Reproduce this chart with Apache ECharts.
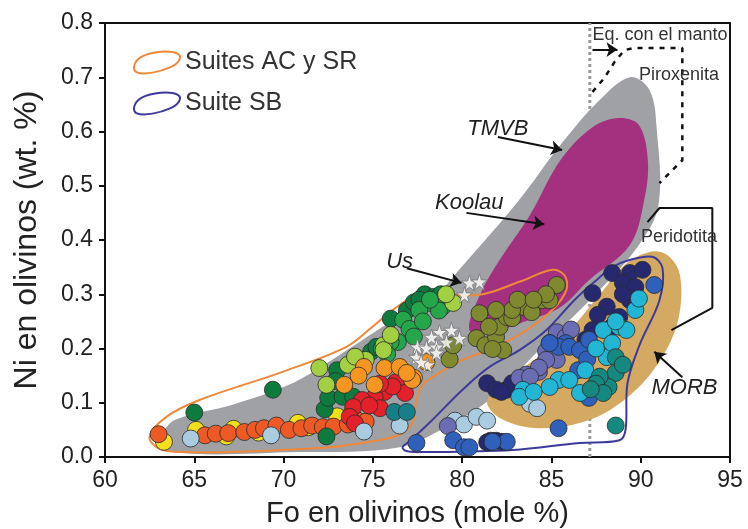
<!DOCTYPE html>
<html>
<head>
<meta charset="utf-8">
<script src="https://cdn.jsdelivr.net/npm/echarts@6/dist/echarts.min.js"></script>
<style>
  html, body { margin: 0; padding: 0; background: #fff; }
  #chart { width: 748px; height: 529px; }
</style>
</head>
<body>
<div id="chart"></div>
<script>
// campos (Fo, Ni) -- contornos
const tmvbField = [[63.2,0.037],[63.9,0.068],[67.1,0.096],[70.3,0.133],[72.7,0.179],[75.9,0.247],[78.2,0.289],[80.2,0.359],[83.2,0.474],[85.5,0.575],[87.7,0.658],[89.4,0.700],[90.5,0.676],[90.9,0.603],[91.0,0.465],[89.9,0.391],[87.7,0.308],[84.3,0.197],[81.5,0.105],[79.3,0.059],[76.5,0.018],[70.9,0.009],[63.6,0.009]];
const koolauField = [[80.4,0.234],[81.0,0.299],[82.1,0.363],[83.8,0.446],[85.5,0.547],[87.3,0.608],[88.8,0.625],[89.9,0.612],[90.4,0.547],[90.2,0.474],[89.4,0.391],[87.1,0.326],[85.5,0.276],[83.8,0.253],[81.5,0.230]];
const morbField = [[81.4,0.105],[82.1,0.072],[84.3,0.053],[87.1,0.068],[89.4,0.114],[91.1,0.179],[92.1,0.253],[92.2,0.335],[91.5,0.372],[90.5,0.378],[89.1,0.354],[87.7,0.299],[85.5,0.216],[82.9,0.151]];
const acsrOutline = [[62.49,0.037],[63.44,0.074],[65.29,0.105],[69.94,0.157],[73.52,0.203],[74.98,0.240],[76.32,0.276],[77.61,0.299],[80.97,0.299],[83.21,0.323],[85.05,0.345],[85.73,0.335],[85.84,0.308],[85.05,0.271],[83.60,0.234],[81.92,0.203],[80.02,0.179],[78.73,0.155],[77.78,0.133],[77.44,0.105],[77.22,0.063],[76.49,0.041],[74.98,0.029],[72.57,0.018],[66.97,0.009],[64.34,0.009],[63.05,0.015]];
const sbOutline = [[76.66,0.018],[77.05,0.029],[78.17,0.063],[80.02,0.124],[81.53,0.166],[83.21,0.197],[84.72,0.234],[86.28,0.289],[87.52,0.326],[88.42,0.350],[89.37,0.363],[90.66,0.369],[91.22,0.348],[91.05,0.289],[89.93,0.206],[89.26,0.136],[89.15,0.050],[88.81,0.031],[86.57,0.026],[82.82,0.013],[77.61,0.009],[76.88,0.011]];
const piroxenitaLine = [[87.30,0.673],[87.97,0.699],[88.53,0.728],[89.09,0.750],[89.65,0.754],[92.33,0.754],[92.33,0.547],[91.05,0.505]];
const peridotitaLine = [[90.38,0.433],[91.05,0.459],[94.01,0.459],[94.01,0.275],[91.72,0.234]];
const mantleFo = [[87.15,0],[87.15,0.8]];

// flechas y textos
const arrows = [
  [[82.0,0.590],[85.6,0.566]],
  [[80.24,0.450],[84.6,0.429]],
  [[76.9,0.348],[79.96,0.321]],
  [[92.33,0.147],[90.76,0.194]],
  [[87.3,0.751],[88.7,0.751]]
];
const noteText = ['TMVB', 'Koolau', 'Us', 'MORB', 'Piroxenita', 'Peridotita', 'Eq. con el manto'];
const noteAt = [[82.0,0.604],[80.4,0.468],[76.5,0.360],[92.45,0.127],[92.15,0.704],[92.15,0.406],[87.3,0.778]];

// olivinos (Fo, Ni)
const yellowPts = [[63.3,0.028],[65.1,0.05],[66.8,0.038],[67.2,0.052],[68.6,0.045],[70.8,0.063],[71.4,0.055],[73.0,0.075],[73.8,0.08]];
const redOrangePts = [[63.0,0.042],[65.6,0.040],[66.2,0.043],[66.9,0.044],[67.8,0.046],[68.4,0.050],[68.9,0.053],[69.6,0.058],[70.3,0.050],[71.0,0.053],[71.6,0.058],[72.2,0.055],[72.8,0.056],[74.1,0.068],[74.6,0.065],[73.6,0.060]];
const darkGreenPts = [[65.0,0.082],[69.4,0.124],[72.3,0.088],[72.4,0.038],[73.0,0.160],[72.9,0.140],[72.5,0.109],[73.3,0.111],[73.9,0.111],[74.9,0.194],[75.2,0.203],[74.0,0.180],[76.0,0.255],[76.9,0.270],[77.3,0.285],[77.9,0.300],[78.4,0.295],[78.8,0.300],[77.6,0.290]];
const greenPts = [[76.7,0.253],[77.05,0.236],[76.4,0.212],[78.9,0.277],[78.2,0.284],[77.6,0.271],[76.0,0.212],[75.5,0.200],[78.7,0.270],[77.8,0.250],[78.2,0.290],[75.8,0.190],[77.3,0.222]];
const lightGreenPts = [[72.0,0.164],[72.4,0.133],[74.6,0.179],[75.6,0.206],[79.5,0.284],[75.6,0.197],[73.6,0.170],[76.0,0.225],[79.1,0.300],[74.0,0.185]];
const redPts = [[76.3,0.138],[76.8,0.118],[75.65,0.120],[75.1,0.110],[74.4,0.105],[73.9,0.092],[73.7,0.074],[74.0,0.062],[75.4,0.090],[76.1,0.130],[75.4,0.135],[74.8,0.095]];
const orangePts = [[73.4,0.133],[74.5,0.166],[75.1,0.133],[75.65,0.164],[76.5,0.166],[77.3,0.146],[77.2,0.142],[76.9,0.155],[74.2,0.150],[78.0,0.175]];
const lightBluePts = [[64.8,0.034],[69.3,0.040],[74.5,0.047],[76.5,0.058],[79.6,0.067],[80.1,0.060],[80.8,0.074],[81.4,0.067],[83.8,0.098],[84.2,0.090]];
const tealPts = [[76.2,0.083],[76.9,0.083]];
const olivePts = [[80.97,0.265],[80.8,0.219],[81.3,0.206],[81.9,0.221],[82.3,0.197],[81.7,0.199],[82.1,0.240],[82.5,0.258],[82.8,0.256],[83.4,0.277],[83.9,0.267],[84.5,0.289],[84.9,0.289],[85.3,0.317],[84.7,0.300],[82.8,0.271],[81.9,0.271],[79.3,0.180],[81.5,0.240],[83.1,0.290],[84.0,0.290],[79.5,0.206]];
const navyPts = [[81.4,0.136],[81.9,0.124],[82.5,0.124],[82.8,0.136],[82.2,0.120],[88.4,0.339],[89.4,0.339],[90.1,0.345],[89.0,0.321],[87.3,0.302],[89.7,0.313],[89.4,0.289],[88.1,0.277],[88.8,0.258],[88.4,0.240],[87.3,0.234],[86.9,0.216],[89.0,0.300],[87.6,0.262],[81.6,0.030],[81.9,0.030],[82.2,0.028],[81.4,0.027]];
const periwinklePts = [[85.3,0.230],[85.8,0.221],[84.9,0.210],[84.7,0.195],[85.3,0.179],[84.3,0.157],[83.6,0.152],[83.2,0.146],[84.7,0.179],[84.3,0.165],[83.8,0.148],[79.2,0.057],[86.1,0.235]];
const bluePts = [[77.44,0.026],[79.5,0.031],[80.1,0.018],[80.4,0.018],[82.5,0.028],[81.7,0.028],[85.4,0.053],[90.76,0.317],[85.8,0.210],[85.4,0.203],[86.0,0.203],[86.6,0.197],[87.1,0.216],[84.9,0.210],[86.5,0.160],[87.0,0.180],[87.1,0.109]];
const cyanPts = [[85.4,0.142],[84.9,0.129],[83.4,0.124],[83.2,0.111],[86.0,0.142],[86.6,0.118],[86.9,0.160],[88.1,0.184],[87.9,0.234],[88.8,0.240],[89.2,0.234],[89.7,0.271],[89.9,0.292],[88.6,0.250],[87.5,0.200],[88.4,0.210],[84.0,0.120]];
const tealGreenPts = [[88.6,0.184],[88.6,0.155],[88.2,0.129],[87.7,0.148],[87.5,0.135],[87.9,0.118],[88.6,0.058],[89.0,0.170],[87.2,0.125]];
const usPts = [[80.41,0.321],[80.97,0.323],[80.13,0.299],[78.73,0.230],[79.40,0.234],[79.85,0.219],[78.28,0.221],[77.50,0.203],[78.00,0.201],[78.56,0.203],[77.44,0.184],[78.06,0.170],[78.56,0.192],[79.12,0.212],[77.7,0.175]];

const xTicks = [60, 65, 70, 75, 80, 85, 90, 95];
const yTicks = [0, 0.1, 0.2, 0.3, 0.4, 0.5, 0.6, 0.7, 0.8];

const FONT = 'Liberation Sans, Arial, Helvetica, sans-serif';
const STAR = 'path://M50,0 L61,35 L98,35 L68,57 L79,91 L50,70 L21,91 L32,57 L2,35 L39,35 Z';
const BLOB = 'path://M10,46 C0,42 2,24 20,14 C40,3 78,0 94,8 C104,14 96,28 78,36 C58,45 24,52 10,46 Z';

const chart = echarts.init(document.getElementById('chart'));

function field(name, pts, style, z) {
  return {
    name: name,
    type: 'custom',
    z: z,
    silent: true,
    data: [pts[0]],
    renderItem: function (params, api) {
      return {
        type: 'polygon',
        shape: { points: pts.map(p => api.coord(p)), smooth: 0.35 },
        style: style,
      };
    },
  };
}

function dots(name, pts, color) {
  return {
    name: name,
    type: 'scatter',
    z: 6,
    symbol: 'circle',
    symbolSize: 17,
    itemStyle: { color: color, borderColor: '#2b2b2b', borderWidth: 0.8, opacity: 1 },
    data: pts,
  };
}

function noteFont(i) {
  if (i >= 4) return '18px ' + FONT;
  return 'italic 22px ' + FONT;
}

const option = {
  animation: false,
  backgroundColor: '#fff',
  grid: {
    left: 105,
    right: 18,
    top: 23,
    bottom: 72,
    outerBoundsMode: 'none',
    show: true,
    borderColor: '#111',
    borderWidth: 2,
  },
  legend: {
    orient: 'vertical',
    left: 128,
    top: 45,
    itemWidth: 46,
    itemHeight: 26,
    itemGap: 16,
    textStyle: { fontSize: 25, color: '#333', fontFamily: FONT },
    data: [
      { name: 'Suites AC y SR', icon: BLOB, itemStyle: { color: 'rgba(0,0,0,0)', borderColor: '#f0883a', borderWidth: 2 } },
      { name: 'Suite SB', icon: BLOB, itemStyle: { color: 'rgba(0,0,0,0)', borderColor: '#3d3a9c', borderWidth: 2 } },
    ],
  },
  xAxis: {
    type: 'value',
    min: xTicks[0],
    max: xTicks[xTicks.length - 1],
    interval: 5,
    name: 'Fo en olivinos (mole %)',
    nameLocation: 'middle',
    nameGap: 42,
    nameTextStyle: { fontSize: 29, color: '#222', fontFamily: FONT },
    axisLine: { lineStyle: { color: '#111', width: 2 } },
    axisTick: { length: 6, lineStyle: { color: '#111', width: 2 } },
    axisLabel: { fontSize: 23, color: '#222', fontFamily: FONT, margin: 12 },
    splitLine: { show: false },
  },
  yAxis: {
    type: 'value',
    min: yTicks[0],
    max: yTicks[yTicks.length - 1],
    interval: 0.1,
    name: 'Ni en olivinos (wt. %)',
    nameLocation: 'middle',
    nameGap: 62,
    nameTextStyle: { fontSize: 32, color: '#222', fontFamily: FONT },
    axisLine: { lineStyle: { color: '#111', width: 2 } },
    axisTick: { length: 6, lineStyle: { color: '#111', width: 2 } },
    axisLabel: { fontSize: 23, color: '#222', fontFamily: FONT, margin: 12, formatter: v => v.toFixed(1) },
    splitLine: { show: false },
  },
  series: [
    {
      name: 'mantle',
      type: 'line',
      z: 1,
      silent: true,
      symbol: 'none',
      lineStyle: { color: '#9a9a9a', width: 3, type: [3, 3] },
      data: mantleFo,
    },
    field('TMVB', tmvbField, { fill: '#a0a1a4' }, 2),
    field('Koolau', koolauField, { fill: '#a3317f' }, 3),
    field('MORB', morbField, { fill: '#d4aa62' }, 3),
    field('Suites AC y SR', acsrOutline, { fill: 'none', stroke: '#f0883a', lineWidth: 2 }, 4),
    field('Suite SB', sbOutline, { fill: 'none', stroke: '#3d3a9c', lineWidth: 2 }, 4),
    {
      name: 'Piroxenita',
      type: 'line',
      z: 4,
      silent: true,
      symbol: 'none',
      lineStyle: { color: '#111', width: 2.5, type: [5, 6] },
      data: piroxenitaLine,
    },
    {
      name: 'Peridotita',
      type: 'line',
      z: 4,
      silent: true,
      symbol: 'none',
      lineStyle: { color: '#111', width: 2 },
      data: peridotitaLine,
    },
    dots('yellow', yellowPts, '#f4df1c'),
    dots('redorange', redOrangePts, '#ee5a26'),
    dots('darkgreen', darkGreenPts, '#0d7b3d'),
    dots('green', greenPts, '#25a64a'),
    dots('lightgreen', lightGreenPts, '#a3cf43'),
    dots('red', redPts, '#e3212a'),
    dots('orange', orangePts, '#f6951f'),
    dots('lightblue', lightBluePts, '#a9cce0'),
    dots('teal', tealPts, '#15808a'),
    dots('olive', olivePts, '#7f8a30'),
    dots('navy', navyPts, '#26296f'),
    dots('periwinkle', periwinklePts, '#6a6db2'),
    dots('blue', bluePts, '#2f60bc'),
    dots('cyan', cyanPts, '#22b6d4'),
    dots('tealgreen', tealGreenPts, '#15887f'),
    {
      name: 'Us',
      type: 'scatter',
      z: 7,
      symbol: STAR,
      symbolSize: 16,
      itemStyle: { color: '#fff', borderColor: '#777', borderWidth: 1 },
      data: usPts,
    },
    {
      name: 'arrows',
      type: 'lines',
      coordinateSystem: 'cartesian2d',
      z: 8,
      silent: true,
      symbol: ['none', 'arrow'],
      symbolSize: 11,
      lineStyle: { color: '#111', width: 2, opacity: 1 },
      data: arrows.map(a => ({ coords: a })),
    },
    {
      name: 'notes',
      type: 'custom',
      z: 9,
      silent: true,
      data: noteAt,
      renderItem: function (params, api) {
        const i = params.dataIndex;
        const p = api.coord(noteAt[i]);
        return {
          type: 'text',
          x: p[0],
          y: p[1],
          style: {
            text: noteText[i],
            font: noteFont(i),
            fill: i >= 4 ? '#333' : '#222',
            align: i === 6 ? 'left' : 'center',
            verticalAlign: 'middle',
          },
        };
      },
    },
  ],
};

chart.setOption(option);
</script>
</body>
</html>
